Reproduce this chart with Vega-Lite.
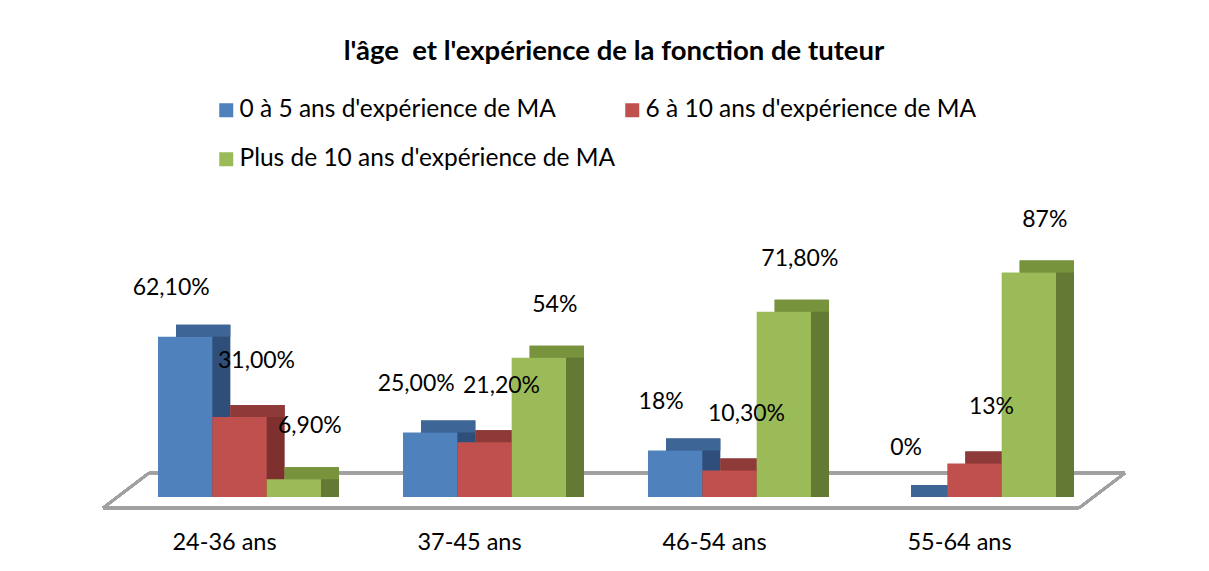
{
  "$schema": "https://vega.github.io/schema/vega-lite/v6.json",
  "width": 980,
  "height": 258,
  "autosize": {"type": "none"},
  "padding": {"left": 117, "top": 239, "right": 112, "bottom": 74},
  "background": "white",
  "title": {
    "text": "l'âge \u00a0et l'expérience de la fonction de tuteur",
    "font": "Lato",
    "fontSize": 27.5,
    "fontWeight": "bold",
    "color": "black",
    "anchor": "middle",
    "frame": "group",
    "offset": 33,
    "dx": 7
  },
  "data": {
    "values": [
      {"age": "24-36 ans", "serie": "0 à 5 ans d'expérience de MA", "value": 62.1, "label": "62,10%"},
      {"age": "24-36 ans", "serie": "6 à 10 ans d'expérience de MA", "value": 31.0, "label": "31,00%"},
      {"age": "24-36 ans", "serie": "Plus de 10 ans d'expérience de MA", "value": 6.9, "label": "6,90%"},
      {"age": "37-45 ans", "serie": "0 à 5 ans d'expérience de MA", "value": 25.0, "label": "25,00%"},
      {"age": "37-45 ans", "serie": "6 à 10 ans d'expérience de MA", "value": 21.2, "label": "21,20%"},
      {"age": "37-45 ans", "serie": "Plus de 10 ans d'expérience de MA", "value": 54, "label": "54%"},
      {"age": "46-54 ans", "serie": "0 à 5 ans d'expérience de MA", "value": 18, "label": "18%"},
      {"age": "46-54 ans", "serie": "6 à 10 ans d'expérience de MA", "value": 10.3, "label": "10,30%"},
      {"age": "46-54 ans", "serie": "Plus de 10 ans d'expérience de MA", "value": 71.8, "label": "71,80%"},
      {"age": "55-64 ans", "serie": "0 à 5 ans d'expérience de MA", "value": 0, "label": "0%"},
      {"age": "55-64 ans", "serie": "6 à 10 ans d'expérience de MA", "value": 13, "label": "13%"},
      {"age": "55-64 ans", "serie": "Plus de 10 ans d'expérience de MA", "value": 87, "label": "87%"}
    ]
  },
  "encoding": {
    "x": {
      "field": "age",
      "type": "nominal",
      "scale": {"paddingInner": 0.3347, "paddingOuter": 0.16735},
      "axis": {
        "title": null,
        "domain": false,
        "ticks": false,
        "labelFont": "Lato",
        "labelFontSize": 23.5,
        "labelColor": "black",
        "labelAngle": 0,
        "labelPadding": 33,
        "labelOffset": -15
      }
    }
  },
  "layer": [
    {
      "mark": {"type": "rule", "color": "#a0a0a0", "strokeWidth": 2.5, "yOffset": -24, "y2Offset": -24, "xOffset": -9, "x2Offset": 69},
      "encoding": {
        "x": {"datum": "24-36 ans", "bandPosition": 0},
        "x2": {"datum": "55-64 ans", "bandPosition": 1},
        "y": {"datum": 0, "type": "quantitative", "scale": {"domain": [0, 100], "nice": false}, "axis": null},
        "y2": {"datum": 0}
      }
    },
    {
      "mark": {"type": "rule", "color": "#a0a0a0", "strokeWidth": 2.5, "yOffset": 11, "y2Offset": 11, "xOffset": -55, "x2Offset": 23},
      "encoding": {
        "x": {"datum": "24-36 ans", "bandPosition": 0},
        "x2": {"datum": "55-64 ans", "bandPosition": 1},
        "y": {"datum": 0, "type": "quantitative"},
        "y2": {"datum": 0}
      }
    },
    {
      "mark": {"type": "rule", "color": "#a0a0a0", "strokeWidth": 2.5, "yOffset": 11, "y2Offset": -24, "xOffset": -55, "x2Offset": -9},
      "encoding": {
        "x": {"datum": "24-36 ans", "bandPosition": 0},
        "x2": {"datum": "24-36 ans", "bandPosition": 0},
        "y": {"datum": 0, "type": "quantitative"},
        "y2": {"datum": 0}
      }
    },
    {
      "mark": {"type": "rule", "color": "#a0a0a0", "strokeWidth": 2.5, "yOffset": 11, "y2Offset": -24, "xOffset": 23, "x2Offset": 69},
      "encoding": {
        "x": {"datum": "55-64 ans", "bandPosition": 1},
        "x2": {"datum": "55-64 ans", "bandPosition": 1},
        "y": {"datum": 0, "type": "quantitative"},
        "y2": {"datum": 0}
      }
    },
    {
      "mark": {"type": "bar", "yOffset": -12, "y2Offset": -12},
      "encoding": {
        "xOffset": {"field": "serie", "type": "nominal", "scale": {"range": [18, 181], "paddingInner": 0, "paddingOuter": 0}},
        "y": {"field": "value", "type": "quantitative", "stack": null},
        "color": {"field": "serie", "type": "nominal", "scale": {"range": ["#2f4e79", "#7e302e", "#647a34"]}, "legend": null}
      }
    },
    {
      "mark": {"type": "bar", "yOffset": -12, "y2Offset": 0},
      "encoding": {
        "xOffset": {"field": "serie", "type": "nominal", "scale": {"range": [18, 181], "paddingInner": 0, "paddingOuter": 0}},
        "y": {"field": "value", "type": "quantitative", "stack": null},
        "y2": {"field": "value"},
        "color": {"field": "serie", "type": "nominal", "scale": {"range": ["#3d6596", "#8e3a38", "#77933c"]}, "legend": null}
      }
    },
    {
      "mark": {"type": "bar"},
      "encoding": {
        "xOffset": {"field": "serie", "type": "nominal", "scale": {"paddingInner": 0, "paddingOuter": 0}},
        "y": {"field": "value", "type": "quantitative", "stack": null},
        "color": {
          "field": "serie",
          "type": "nominal",
          "scale": {"range": ["#4f81bd", "#c0504d", "#9bbb59"]},
          "legend": {
            "title": null,
            "orient": "none",
            "direction": "horizontal",
            "legendX": 97,
            "legendY": -141,
            "columns": 2,
            "gridAlign": "none",
            "columnPadding": 4,
            "rowPadding": 24,
            "symbolType": "square",
            "symbolSize": 196,
            "symbolStrokeWidth": 0,
            "symbolOffset": 0,
            "labelOffset": 1,
            "labelFont": "Lato",
            "labelFontSize": 24.5,
            "labelColor": "black",
            "labelLimit": 600
          }
        }
      }
    },
    {
      "transform": [{"filter": "datum.serie === \"0 à 5 ans d'expérience de MA\""}],
      "mark": {"type": "text", "font": "Lato", "fontSize": 23, "color": "black", "dx": -14, "dy": -49, "baseline": "middle"},
      "encoding": {
        "xOffset": {"field": "serie", "type": "nominal", "scale": {"domain": ["0 à 5 ans d'expérience de MA", "6 à 10 ans d'expérience de MA", "Plus de 10 ans d'expérience de MA"], "padding": 0.5}},
        "y": {"field": "value", "type": "quantitative", "stack": null},
        "text": {"field": "label"}
      }
    },
    {
      "transform": [{"filter": "datum.serie === \"6 à 10 ans d'expérience de MA\""}],
      "mark": {"type": "text", "font": "Lato", "fontSize": 23, "color": "black", "dx": 17, "dy": -56, "baseline": "middle"},
      "encoding": {
        "xOffset": {"field": "serie", "type": "nominal", "scale": {"domain": ["0 à 5 ans d'expérience de MA", "6 à 10 ans d'expérience de MA", "Plus de 10 ans d'expérience de MA"], "padding": 0.5}},
        "y": {"field": "value", "type": "quantitative", "stack": null},
        "text": {"field": "label"}
      }
    },
    {
      "transform": [{"filter": "datum.serie === \"Plus de 10 ans d'expérience de MA\""}],
      "mark": {"type": "text", "font": "Lato", "fontSize": 23, "color": "black", "dx": 16, "dy": -53, "baseline": "middle"},
      "encoding": {
        "xOffset": {"field": "serie", "type": "nominal", "scale": {"domain": ["0 à 5 ans d'expérience de MA", "6 à 10 ans d'expérience de MA", "Plus de 10 ans d'expérience de MA"], "padding": 0.5}},
        "y": {"field": "value", "type": "quantitative", "stack": null},
        "text": {"field": "label"}
      }
    }
  ],
  "resolve": {"scale": {"xOffset": "independent", "color": "independent"}},
  "config": {"view": {"stroke": null}}
}
